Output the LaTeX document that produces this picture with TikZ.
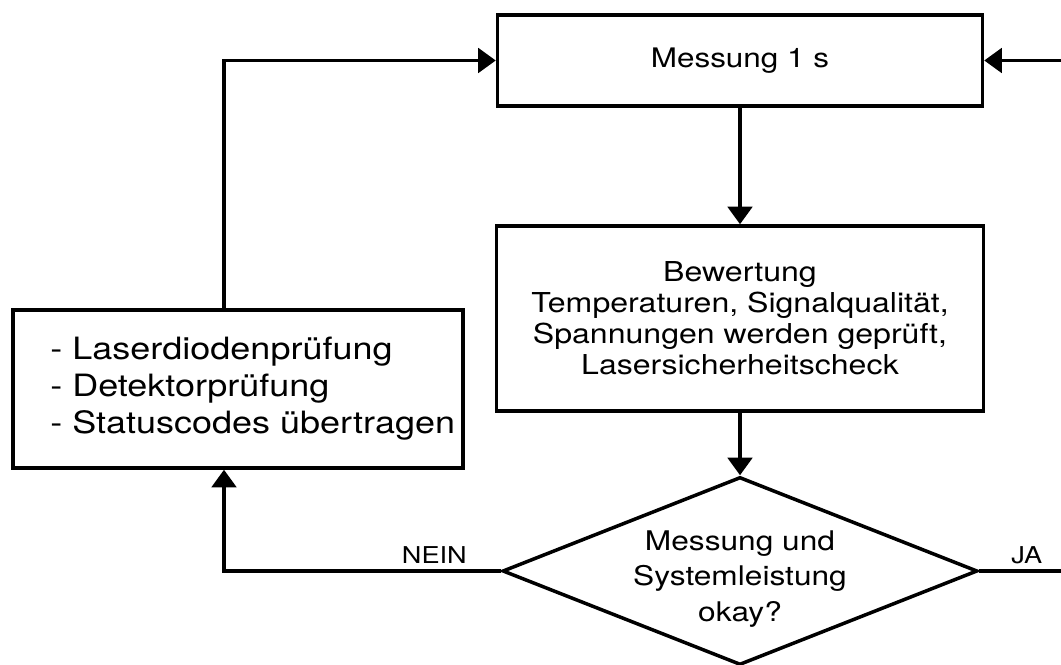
\documentclass[tikz,border=0pt]{standalone}
\usepackage{fontspec}
\setmainfont[FakeStretch=1.17]{TeX Gyre Heros}
\usetikzlibrary{shapes.geometric}
\usetikzlibrary{arrows.meta}
\tikzset{
	box/.style={draw, line width=2pt, align=center},
	line/.style={line width=1.8pt},
	arr/.style={line width=1.8pt, -{Triangle[length=10pt,width=14pt]}},
	lbl/.style={font=\fontsize{13.2}{15}\selectfont},
}

\begin{document}
\begin{tikzpicture}
	\useasboundingbox (0,0) rectangle (21.22,13.28);
	\node[box, font=\fontsize{15.3}{17.6}\selectfont, minimum width=9.7cm, minimum height=1.82cm] (mess) at (14.8,12.07) {Messung 1 s};
	\node[box, font=\fontsize{15.6}{17.6}\selectfont, minimum width=9.74cm, minimum height=3.7cm] (bew) at (14.8,6.91) {Bewertung\\Temperaturen, Signalqualität,\\Spannungen werden geprüft,\\Lasersicherheitscheck};
	\node[box, diamond, minimum width=9.5cm, minimum height=3.76cm] (ok) at (14.8,1.86) {};
	\node[font=\fontsize{15.4}{20.2}\selectfont, align=center] (oktxt) at ([yshift=-0.16cm]ok.center) {Messung und\\Systemleistung\\okay?};
	\node[box, minimum width=9cm, minimum height=3.16cm] (chk) at (4.76,5.5) {};
	\node[font=\fontsize{17.5}{21}\selectfont, align=left, anchor=west, inner sep=0pt] (chktxt) at (1.0,5.5) {- Laserdiodenprüfung\\- Detektorprüfung\\- Statuscodes übertragen};
	\coordinate (inR) at (21.22,12.07);
	\coordinate (outR) at (21.22,1.86);
	\draw[arr] (inR) -- (mess);
	\draw[arr] (mess) -- (bew);
	\draw[arr] (bew) -- (ok);
	\draw[line] (ok.east) -- (outR) node[pos=0.58, above, lbl] {JA};
	\draw[arr] (ok.west) -| ([xshift=-0.28cm]chk.south) node[pos=0.12, above, lbl] {NEIN};
	\draw[arr] ([xshift=-0.28cm]chk.north) |- (mess.west);
\end{tikzpicture}
\end{document}
